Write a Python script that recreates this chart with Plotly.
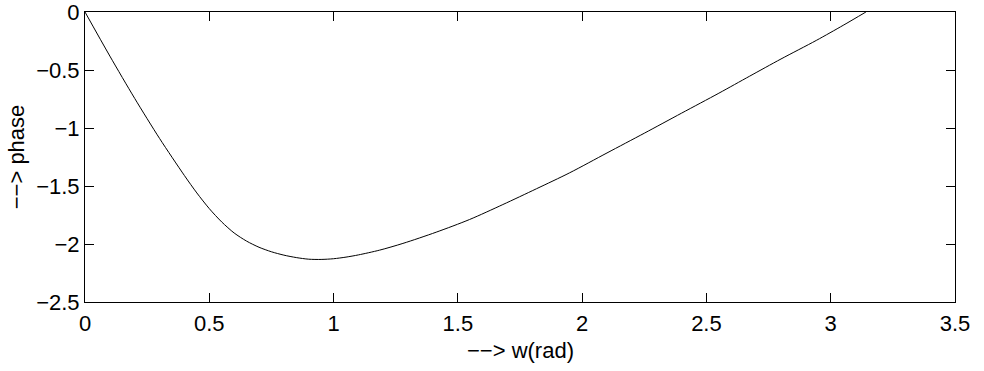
import plotly.graph_objects as go

# Frequency (rad) and unwrapped phase
w = [0.0, 0.10, 0.20, 0.30, 0.40, 0.45, 0.50, 0.55, 0.60, 0.65, 0.70, 0.75, 0.80,
     0.85, 0.90, 0.95, 1.00, 1.05, 1.10, 1.185, 1.279, 1.413, 1.547, 1.681, 1.816, 1.950, 2.10,
     2.25, 2.40, 2.55, 2.674, 2.80, 2.942, 3.05, 3.1416]
phase = [0.0, -0.38, -0.745, -1.09, -1.41, -1.56, -1.695, -1.81, -1.905, -1.975, -2.028, -2.067, -2.096,
         -2.117, -2.131, -2.133, -2.127, -2.113, -2.094, -2.053, -1.995, -1.898, -1.789, -1.660, -1.524,
         -1.386, -1.215, -1.045, -0.872, -0.700, -0.553, -0.405, -0.245, -0.115, 0.0]

xticks = [0, 0.5, 1, 1.5, 2, 2.5, 3, 3.5]
yticks = [0, -0.5, -1, -1.5, -2, -2.5]
xlabel = "−−> w(rad)"
ylabel = "−−> phase"

fig = go.Figure()
fig.add_trace(go.Scatter(x=w, y=phase, mode="lines",
                         line=dict(color="black", width=1, shape="spline", smoothing=0.8),
                         showlegend=False, hoverinfo="skip"))

font = dict(family="Liberation Sans, Arial, Helvetica, sans-serif", size=22, color="black")
axis_common = dict(ticks="inside", ticklen=9, tickcolor="black", tickwidth=1,
                   showline=True, linecolor="black", linewidth=1, mirror="ticks",
                   showgrid=False, zeroline=False, automargin=False, tickfont=font,
                   ticklabeloverflow="allow")
fig.update_layout(
    width=984, height=371,
    margin=dict(l=85, r=29, t=12, b=69),
    paper_bgcolor="white", plot_bgcolor="white",
    font=font,
    xaxis=dict(range=[0, 3.5], tickvals=xticks, ticktext=[f"{v:g}" for v in xticks],
               ticklabelstandoff=2, **axis_common),
    yaxis=dict(range=[-2.5, 0], tickvals=yticks,
               ticktext=[f"{v:g}".replace("-", "−") for v in yticks], **axis_common),
    annotations=[
        dict(text=xlabel, xref="paper", yref="paper", x=0.5, y=-0.168, xanchor="center", yanchor="middle",
             showarrow=False, font=font),
        dict(text=ylabel, xref="paper", yref="paper", x=-0.079, y=0.5, xanchor="center", yanchor="middle",
             showarrow=False, font=font, textangle=-90),
    ],
)
fig.write_html("out.html", config={"displayModeBar": False},
               post_script="document.body.style.margin='0px';document.body.style.overflow='hidden';")
